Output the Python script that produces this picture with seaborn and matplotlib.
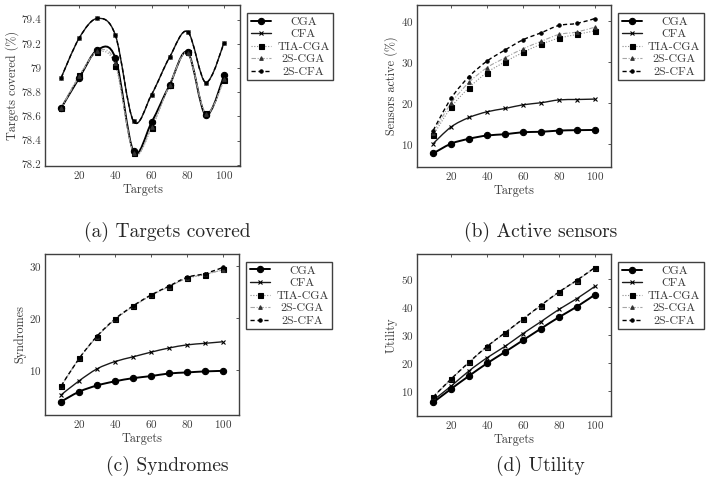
import matplotlib
matplotlib.use("Agg")
import matplotlib.pyplot as plt
import numpy as np
import seaborn as sns
from matplotlib.lines import Line2D
from matplotlib.path import Path
from matplotlib.patches import PathPatch


targets = [10, 20, 30, 40, 50, 60, 70, 80, 90, 100]
methods = ["CGA", "CFA", "TIA-CGA", "2S-CGA", "2S-CFA"]

# (a) targets covered (%)
cov_cga = [78.67, 78.92, 79.15, 79.08, 78.31, 78.55, 78.86, 79.13, 78.61, 78.94]
cov_cfa = [78.92, 79.25, 79.41, 79.27, 78.56, 78.78, 79.09, 79.30, 78.88, 79.21]
cov_tia = [78.67, 78.94, 79.13, 79.02, 78.30, 78.50, 78.86, 79.13, 78.63, 78.90]
cov_2scga = [78.67, 78.93, 79.14, 79.04, 78.30, 78.51, 78.86, 79.12, 78.62, 78.91]
cov_2scfa = [78.92, 79.25, 79.41, 79.27, 78.56, 78.78, 79.09, 79.30, 78.88, 79.21]

# (b) sensors active (%)
act_cga = [7.6, 10.0, 11.2, 12.0, 12.3, 12.8, 12.9, 13.2, 13.3, 13.35]
act_cfa = [10.0, 14.1, 16.4, 17.8, 18.6, 19.5, 20.0, 20.7, 20.8, 20.9]
act_tia = [12.0, 18.9, 23.7, 27.4, 30.0, 32.3, 34.3, 35.8, 36.7, 37.6]
act_2scga = [12.7, 19.9, 25.0, 28.6, 31.0, 33.2, 35.0, 36.7, 37.3, 38.5]
act_2scfa = [13.2, 21.1, 26.4, 30.2, 32.9, 35.4, 37.1, 38.9, 39.4, 40.6]

# (c) syndromes
syn_cga = [4.0, 5.9, 7.1, 7.9, 8.5, 8.9, 9.4, 9.6, 9.8, 9.9]
syn_cfa = [5.3, 8.0, 10.3, 11.7, 12.6, 13.5, 14.3, 14.9, 15.2, 15.5]
syn_tia = [7.0, 12.3, 16.5, 19.8, 22.3, 24.4, 26.1, 27.7, 28.4, 29.4]
syn_2scga = [7.0, 12.3, 16.5, 19.8, 22.3, 24.4, 26.1, 27.7, 28.5, 29.3]
syn_2scfa = [7.0, 12.3, 16.6, 19.9, 22.4, 24.5, 26.2, 27.9, 28.6, 29.8]

# (d) utility
utl_cga = [5.7, 10.6, 15.3, 19.8, 23.9, 28.1, 32.3, 36.4, 40.2, 44.5]
utl_cfa = [6.5, 11.6, 17.1, 21.8, 25.9, 30.5, 34.8, 39.2, 43.1, 47.5]
utl_tia = [7.6, 14.1, 20.1, 25.8, 30.7, 35.7, 40.6, 45.4, 49.6, 54.2]
utl_2scga = [7.6, 14.1, 20.1, 25.8, 30.7, 35.7, 40.6, 45.4, 49.6, 54.2]
utl_2scfa = [7.7, 14.2, 20.2, 25.9, 30.8, 35.8, 40.7, 45.5, 49.7, 54.3]

styles = {
    "CGA": dict(color="black", lw=1.4, ls="-", marker="o", ms=4.5, mfc="black"),
    "CFA": dict(color="#1a1a1a", lw=1.0, ls="-", marker="x", ms=2.8, mfc="black"),
    "TIA-CGA": dict(color="#8c8c8c", lw=0.8, ls=(0, (1, 1.5)), marker="s", ms=3.6, mfc="black"),
    "2S-CGA": dict(color="#a6a6a6", lw=0.8, ls=(0, (4, 1.5, 1, 1.5)), marker="^", ms=2.6, mfc="#333333"),
    "2S-CFA": dict(color="black", lw=1.0, ls=(0, (3, 2)), marker="o", ms=2.4, mfc="black"),
}
text_grey = "#3a3a3a"


def smooth_path(xs, ys, k=1 / 6):
    # bezier path through the points, like pgfplots "smooth"
    pts = np.column_stack([xs, ys]).astype(float)
    n = len(pts)
    verts = [pts[0]]
    codes = [Path.MOVETO]
    for i in range(n - 1):
        p1, p2 = pts[i], pts[i + 1]
        c1 = p1 + (p2 - pts[i - 1]) * k if i > 0 else p1
        c2 = p2 - (pts[i + 2] - p1) * k if i + 2 < n else p2
        verts += [c1, c2, p2]
        codes += [Path.CURVE4] * 3
    return Path(verts, codes)


def panel(ax, series, ylabel, yticks, ytick_labels=None):
    allv = np.concatenate(series)
    pad = 0.1 * (allv.max() - allv.min())
    for name, vals in zip(methods, series):
        st = styles[name]
        ax.add_patch(PathPatch(smooth_path(targets, vals), fill=False,
                               edgecolor=st["color"], lw=st["lw"],
                               linestyle=st["ls"], capstyle="butt"))
        sns.lineplot(x=targets, y=vals, ax=ax, linestyle="none",
                     marker=st["marker"], markersize=st["ms"],
                     markerfacecolor=st["mfc"], markeredgecolor=st["mfc"],
                     markeredgewidth=0.8, color=st["color"])
    ax.set_xlim(1, 109)
    ax.set_ylim(allv.min() - pad, allv.max() + pad)
    ax.set_xticks([20, 40, 60, 80, 100])
    ax.set_yticks(yticks)
    if ytick_labels is not None:
        ax.set_yticklabels(ytick_labels)
    ax.set_xlabel("Targets", fontsize=8.8, color=text_grey, labelpad=2)
    ax.set_ylabel(ylabel, fontsize=8.8, color=text_grey, labelpad=2)
    ax.tick_params(direction="in", length=2.5, width=0.6, top=True, right=True,
                   labelsize=8, colors=text_grey, pad=2.5)
    for sp in ax.spines.values():
        sp.set_color("#404040")
        sp.set_linewidth(1.0)

    handles = [Line2D([], [], color=styles[m]["color"], lw=styles[m]["lw"],
                      ls=styles[m]["ls"], marker=styles[m]["marker"],
                      ms=styles[m]["ms"], mfc=styles[m]["mfc"],
                      mec=styles[m]["mfc"], mew=0.8) for m in methods]
    leg = ax.legend(handles, methods, loc="upper left",
                    bbox_to_anchor=(1.037, 0.952), borderaxespad=0,
                    fontsize=8.6, frameon=True, fancybox=False, framealpha=1,
                    edgecolor="#404040", handlelength=1.7, handletextpad=0.5,
                    labelspacing=0.18, borderpad=0.3)
    leg.get_frame().set_linewidth(1.0)
    return leg


sns.set_theme(style="white")
plt.rcParams["font.family"] = ["cmr10", "DejaVu Serif"]
plt.rcParams["mathtext.fontset"] = "cm"
plt.rcParams["axes.formatter.use_mathtext"] = True

fig = plt.figure(figsize=(7.07, 4.84), dpi=100)
ax_a = fig.add_axes([0.0637, 0.657, 0.2758, 0.3326])
ax_b = fig.add_axes([0.5898, 0.655, 0.2744, 0.3346])
ax_c = fig.add_axes([0.0637, 0.1426, 0.2744, 0.3326])
ax_d = fig.add_axes([0.5898, 0.1405, 0.2744, 0.3347])

legends = [
    panel(ax_a, [cov_cga, cov_cfa, cov_tia, cov_2scga, cov_2scfa],
          "Targets covered (%)", [78.2, 78.4, 78.6, 78.8, 79.0, 79.2, 79.4],
          ["78.2", "78.4", "78.6", "78.8", "79", "79.2", "79.4"]),
    panel(ax_b, [act_cga, act_cfa, act_tia, act_2scga, act_2scfa],
          "Sensors active (%)", [10, 20, 30, 40]),
    panel(ax_c, [syn_cga, syn_cfa, syn_tia, syn_2scga, syn_2scfa],
          "Syndromes", [10, 20, 30]),
    panel(ax_d, [utl_cga, utl_cfa, utl_tia, utl_2scga, utl_2scfa],
          "Utility", [10, 20, 30, 40, 50]),
]

# centre the legend entries in their column, as pgfplots does
renderer = fig.canvas.get_renderer()
for leg in legends:
    texts = leg.get_texts()
    widths = [t.get_window_extent(renderer).width for t in texts]
    widest = max(widths)
    for t, w in zip(texts, widths):
        t.set_color(text_grey)
        t.set_position(((widest - w) / 2, 0))

fig.text(0.236, 1 - 232 / 484, "(a) Targets covered", ha="center", va="center", fontsize=14)
fig.text(0.765, 1 - 232 / 484, "(b) Active sensors", ha="center", va="center", fontsize=14)
fig.text(0.236, 1 - 466 / 484, "(c) Syndromes", ha="center", va="center", fontsize=14)
fig.text(0.765, 1 - 466 / 484, "(d) Utility", ha="center", va="center", fontsize=14)

fig.savefig("out.png", dpi=100, facecolor="white")
